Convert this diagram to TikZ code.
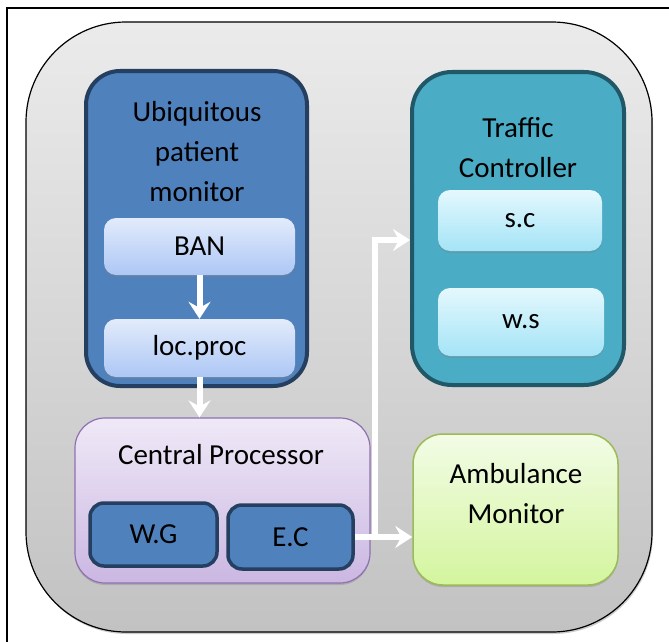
\documentclass[tikz,border=0pt]{standalone}
\usepackage{fontspec}
\setmainfont{Carlito}
\usetikzlibrary{arrows.meta,shadows}
\definecolor{outtop}{HTML}{EBEBEB}
\definecolor{outbot}{HTML}{C2C2C2}
\definecolor{blu}{HTML}{4F81BD}
\definecolor{bluedge}{HTML}{253F60}
\definecolor{lbtop}{HTML}{E2EBFB}
\definecolor{lbbot}{HTML}{ADC7F5}
\definecolor{teal}{HTML}{4BACC6}
\definecolor{tealedge}{HTML}{215867}
\definecolor{ltop}{HTML}{E4F8FD}
\definecolor{lbot}{HTML}{A4E4F7}
\definecolor{lavtop}{HTML}{EFE9F7}
\definecolor{lavbot}{HTML}{CBB7E2}
\definecolor{lavedge}{HTML}{8E72B0}
\definecolor{grtop}{HTML}{F2FCE6}
\definecolor{grbot}{HTML}{D4F59E}
\definecolor{gredge}{HTML}{9BBB59}
\tikzset{
  box/.style={draw, inner sep=0pt, rectangle},
  bluebig/.style={box, fill=blu, draw=bluedge, line width=4pt, rounded corners=34pt},
  lightblue/.style={box, draw=none, top color=lbtop, bottom color=lbbot, rounded corners=12pt,
     drop shadow={shadow xshift=0pt, shadow yshift=-2pt, opacity=0.35}},
  tealbig/.style={box, fill=teal, draw=tealedge, line width=4pt, rounded corners=40pt},
  lightteal/.style={box, draw=none, top color=ltop, bottom color=lbot, rounded corners=12pt,
     drop shadow={shadow xshift=0pt, shadow yshift=-2pt, opacity=0.35}},
  lav/.style={box, draw=lavedge, line width=1.2pt, top color=lavtop, bottom color=lavbot, rounded corners=30pt,
     drop shadow={shadow xshift=0pt, shadow yshift=-2pt, opacity=0.35}},
  smallblue/.style={box, fill=blu, draw=bluedge, line width=3.5pt, rounded corners=14pt},
  green/.style={box, draw=gredge, line width=1.5pt, top color=grtop, bottom color=grbot, rounded corners=30pt,
     drop shadow={shadow xshift=0pt, shadow yshift=-2pt, opacity=0.35}},
  txt/.style={font=\fontsize{29}{40}\selectfont, align=center, inner sep=0pt},
  warrow/.style={draw=white, line width=6pt, line join=miter,
     -{Stealth[length=17pt, width=22pt, inset=6pt, fill=white]}},
}
\begin{document}
\begin{tikzpicture}[x=1pt,y=-1pt]
\useasboundingbox (0,0) rectangle (669,642);
\fill[white] (0,0) rectangle (669,642);
\draw[line width=1.4pt] (7,642) -- (7,8) -- (669,8);
% outer container
\node[box, draw=black, line width=1.2pt, top color=outtop, bottom color=outbot,
      rounded corners=100pt, minimum width=626pt, minimum height=610pt,
      drop shadow={shadow xshift=1pt, shadow yshift=-2pt, opacity=0.4}] (outer) at (339,327) {};
% Ubiquitous patient monitor
\node[bluebig, minimum width=221pt, minimum height=315pt] (upm) at (196.5,228.5) {};
\node[txt] (upmt) at (197,152) {Ubiquitous\\patient\\monitor};
\node[lightblue, minimum width=191pt, minimum height=57pt] (ban) at (199.5,246.5) {};
\node[txt] at (ban.center) {BAN};
\node[lightblue, minimum width=191pt, minimum height=58pt] (loc) at (199.5,348) {};
\node[txt] at (loc.center) {loc.proc};
% Traffic controller
\node[tealbig, minimum width=212pt, minimum height=313pt] (tc) at (518,228.5) {};
\node[txt] (tct) at (518,148) {Traffic\\Controller};
\node[lightteal, minimum width=164pt, minimum height=61pt] (sc) at (520,220.5) {};
\node[txt] at (sc.center) {s.c};
\node[lightteal, minimum width=166pt, minimum height=68pt] (ws) at (521,322) {};
\node[txt] at (ws.center) {w.s};
% Central processor
\node[lav, minimum width=295pt, minimum height=165pt] (cp) at (222.5,500.5) {};
\node[txt] (cpt) at (221,455) {Central Processor};
\node[smallblue, minimum width=127pt, minimum height=63pt] (wg) at (153.5,534.5) {};
\node[txt] at (wg.center) {W.G};
\node[smallblue, minimum width=125pt, minimum height=64pt] (ec) at (290.5,537) {};
\node[txt] at (ec.center) {E.C};
% Ambulance monitor
\node[green, minimum width=205pt, minimum height=151pt] (am) at (515.5,509.5) {};
\node[txt] (amt) at (516,494) {Ambulance\\Monitor};
% arrows
\coordinate (j) at (375,537);
\coordinate (k) at (375,240);
\draw[warrow] (ban.south) -- (loc.north);
\draw[warrow] (loc.south) -- (loc.south |- cp.north);
\draw[warrow] (ec.east) -- (ec.east -| am.west);
\draw[warrow] (j) -- (k) -- (k -| tc.west);
\end{tikzpicture}
\end{document}
